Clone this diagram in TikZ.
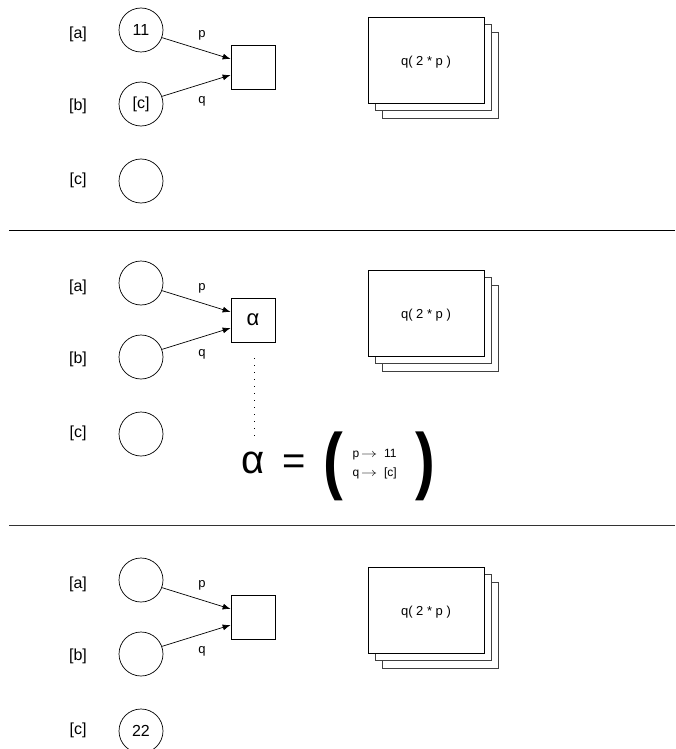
\documentclass[tikz,border=0pt]{standalone}
\usepackage{fontspec}
\usepackage{graphicx}
\setmainfont{Liberation Sans}
\usetikzlibrary{arrows.meta}

% thin arrow used inside the binding list
\newcommand{\mapsarrow}{\scalebox{1.35}[1]{$\rightarrow$}}
% tall, slightly narrowed parenthesis
\newcommand{\tallparen}[1]{\scalebox{0.8}[1]{#1}}

% one state of the store: three cells, the function box and the stacked program sheets
\newcommand{\statepanel}[6]{%
  \begin{scope}[shift={(0,#2)}]
    \node[lbl] (la#1) at (78,34) {[a]};
    \node[lbl] (lb#1) at (78,106) {[b]};
    \node[lbl] (lc#1) at (78,180) {[c]};
    \node[cell] (a#1) at (141,30) {#3};
    \node[cell] (b#1) at (141,104) {#4};
    \node[cell] (c#1) at (141,181) {#5};
    \node[fun] (f#1) at (253,67) {#6};
    \draw[link] (a#1.-20) -- ([yshift=8pt]f#1.west);
    \draw[link] (b#1.20) -- ([yshift=-8pt]f#1.west);
    \node[arg] (p#1) at (202,35) {p};
    \node[arg] (q#1) at (202,101) {q};
    \node[sheet,back] (s3#1) at (440.5,75) {};
    \node[sheet,back] (s2#1) at (433.5,67.75) {};
    \node[sheet] (s1#1) at (426,60) {};
    \node[code] (t#1) at (426,62) {q( 2 * p )};
  \end{scope}}

\begin{document}
\begin{tikzpicture}[x=1pt,y=-1pt,
  lbl/.style={font=\fontsize{16}{18}\selectfont},
  cell/.style={circle,draw,line width=0.7pt,minimum size=44pt,inner sep=0pt,
    font=\fontsize{16}{18}\selectfont},
  fun/.style={draw,line width=0.7pt,minimum size=44pt,inner sep=0pt,
    font=\fontsize{22}{24}\selectfont},
  arg/.style={font=\fontsize{13}{15}\selectfont},
  link/.style={-{Latex[length=8pt,width=6pt]},line width=0.7pt},
  sheet/.style={draw,fill=white,line width=0.7pt,minimum width=116pt,
    minimum height=86pt,inner sep=0pt},
  back/.style={draw=black!75},
  code/.style={font=\fontsize{13}{15}\selectfont},
  rule/.style={line width=0.9pt},
  big/.style={font=\fontsize{40}{44}\selectfont},
  paren/.style={font=\fontsize{74}{74}\selectfont\bfseries},
  small/.style={font=\fontsize{12}{14}\selectfont,anchor=west}]

\useasboundingbox (0,0) rectangle (675,749);

\statepanel{1}{0}{11}{[c]}{}{}
\statepanel{2}{253}{}{}{}{α}
\statepanel{3}{550}{}{}{22}{}

% separators between the states
\coordinate (r1l) at (9,230);
\coordinate (r1r) at (675,230);
\coordinate (r2l) at (9,525);
\coordinate (r2r) at (675,525);
\draw[rule] (r1l) -- (r1r);
\draw[rule,black!80] (r2l) -- (r2r);

% the closure alpha spelled out
\node[big] (alpha) at (253,463) {α};
\node[big] (eq) at (294,465) {=};
\node[paren] (lp) at (333,466) {\tallparen{(}};
\node[paren] (rp) at (425,466) {\tallparen{)}};
\node[small] (bp) at (349,455) {p\,\mapsarrow\ \ 11};
\node[small] (bq) at (349,473) {q\,\mapsarrow\ \ [c]};
\coordinate (dtop) at (254,358);
\coordinate (dbot) at (254,440);
\draw[line width=0.8pt,dash pattern=on 1pt off 6pt] (dtop) -- (dbot);
\end{tikzpicture}
\end{document}
